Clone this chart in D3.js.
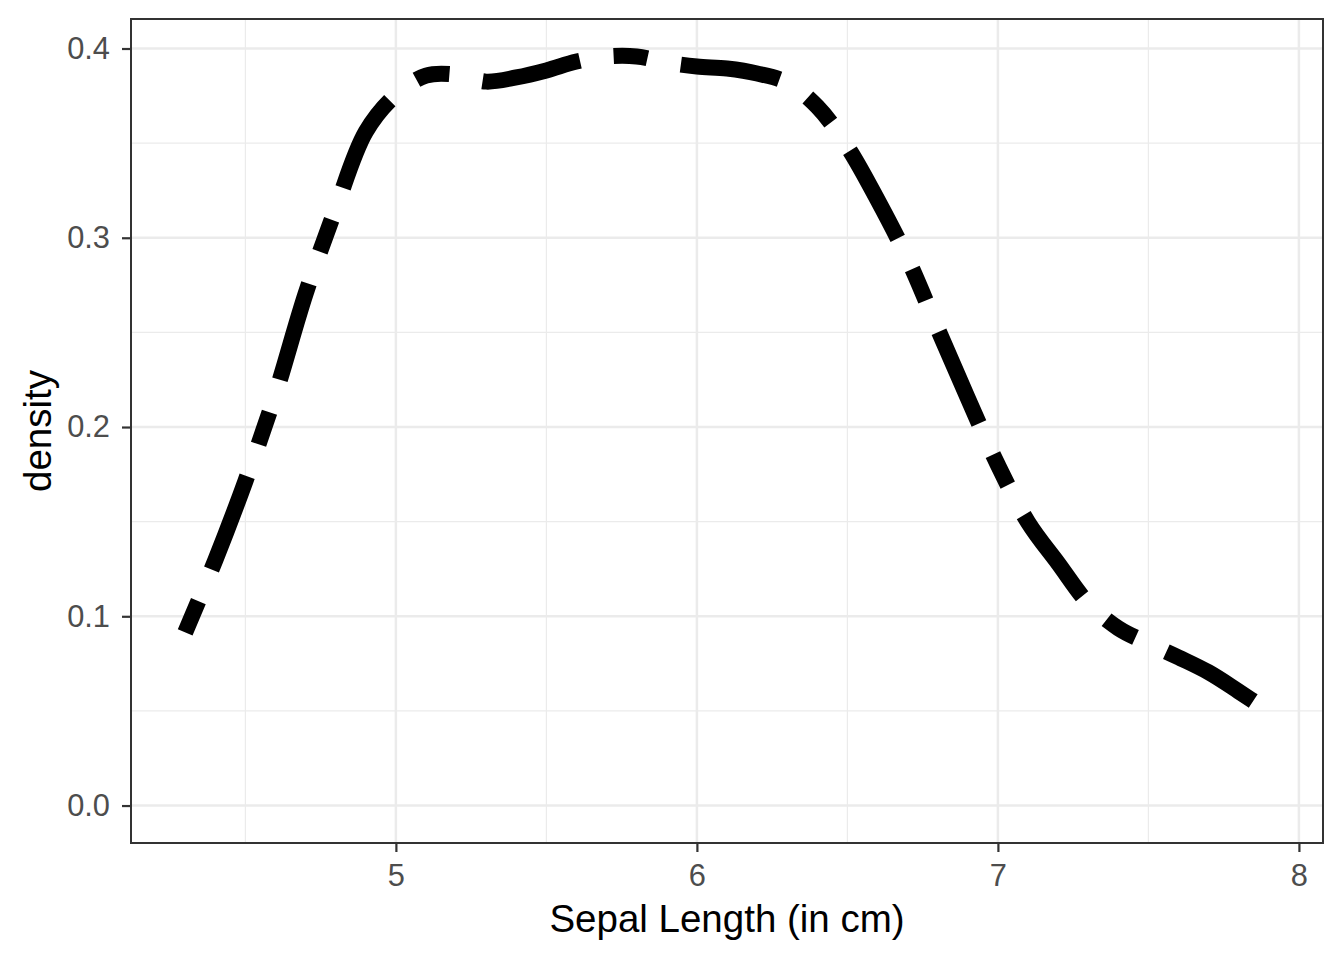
<!DOCTYPE html>
<html>
<head>
<meta charset="utf-8">
<script src="https://cdn.jsdelivr.net/npm/d3@7"></script>
<style>
  body { margin: 0; background: #fff; }
  svg { display: block; font-family: "Liberation Sans", Arial, sans-serif; }
</style>
</head>
<body>
<svg id="chart" width="1344" height="960"></svg>
<script>
// density of Sepal Length
const sepalLength = [4.3, 4.4, 4.5, 4.6, 4.7, 4.8, 4.9, 5.0, 5.1, 5.2, 5.3, 5.4, 5.5, 5.6, 5.7, 5.8, 5.9, 6.0,
  6.1, 6.2, 6.3, 6.4, 6.5, 6.6, 6.7, 6.8, 6.9, 7.0, 7.1, 7.2, 7.3, 7.4, 7.5, 7.6, 7.7, 7.8, 7.9];
const density = [0.0915, 0.1296, 0.1714, 0.2175, 0.2704, 0.3153, 0.3560, 0.3755, 0.3857, 0.3862, 0.3825, 0.3847,
  0.3884, 0.3931, 0.3958, 0.3958, 0.3926, 0.3905, 0.3894, 0.3868, 0.382, 0.3693, 0.3481, 0.3201, 0.2889,
  0.2519, 0.2153, 0.1799, 0.1497, 0.128, 0.1069, 0.0937, 0.0857, 0.0783, 0.0704, 0.0603, 0.0497];
const xTicks = [5, 6, 7, 8];
const xMinor = [4.5, 5.5, 6.5, 7.5];
const yTicks = [0, 0.1, 0.2, 0.3, 0.4];
const yMinor = [0.05, 0.15, 0.25, 0.35];

const svg = d3.select("#chart");
const panel = { left: 131, right: 1323, top: 19, bottom: 843 };

// ggplot style 5% expansion
const xExt = d3.extent(sepalLength);
const xPad = (xExt[1] - xExt[0]) * 0.05;
const x = d3.scaleLinear().domain([xExt[0] - xPad, xExt[1] + xPad]).range([panel.left, panel.right]);
const yMax = d3.max(density);
const y = d3.scaleLinear().domain([-yMax * 0.05, yMax * 1.05]).range([panel.bottom, panel.top]);

const grid = svg.append("g");
grid.selectAll(".xminor").data(xMinor).join("line")
  .attr("x1", d => x(d)).attr("x2", d => x(d))
  .attr("y1", panel.top).attr("y2", panel.bottom)
  .attr("stroke", "#EBEBEB").attr("stroke-width", 1.2);
grid.selectAll(".yminor").data(yMinor).join("line")
  .attr("y1", d => y(d)).attr("y2", d => y(d))
  .attr("x1", panel.left).attr("x2", panel.right)
  .attr("stroke", "#EBEBEB").attr("stroke-width", 1.2);
grid.selectAll(".xmajor").data(xTicks).join("line")
  .attr("x1", d => x(d)).attr("x2", d => x(d))
  .attr("y1", panel.top).attr("y2", panel.bottom)
  .attr("stroke", "#EBEBEB").attr("stroke-width", 2.5);
grid.selectAll(".ymajor").data(yTicks).join("line")
  .attr("y1", d => y(d)).attr("y2", d => y(d))
  .attr("x1", panel.left).attr("x2", panel.right)
  .attr("stroke", "#EBEBEB").attr("stroke-width", 2.5);

// density curve, twodash
const pts = sepalLength.map((v, i) => [v, density[i]]);
const line = d3.line().x(d => x(d[0])).y(d => y(d[1])).curve(d3.curveCatmullRom);
svg.append("path")
  .attr("d", line(pts))
  .attr("fill", "none")
  .attr("stroke", "#000")
  .attr("stroke-width", 16)
  .attr("stroke-dasharray", "34,34,100,34")
  .attr("stroke-linecap", "butt");

// panel border
svg.append("rect")
  .attr("x", panel.left).attr("y", panel.top)
  .attr("width", panel.right - panel.left).attr("height", panel.bottom - panel.top)
  .attr("fill", "none").attr("stroke", "#333333").attr("stroke-width", 2);

// axes
const xAxis = svg.append("g")
  .attr("transform", `translate(0,${panel.bottom})`)
  .call(d3.axisBottom(x).tickValues(xTicks).tickSize(9).tickPadding(12).tickFormat(d3.format("d")));
const yAxis = svg.append("g")
  .attr("transform", `translate(${panel.left},0)`)
  .call(d3.axisLeft(y).tickValues(yTicks).tickSize(9).tickPadding(12).tickFormat(d3.format(".1f")));
[xAxis, yAxis].forEach(g => {
  g.select(".domain").remove();
  g.selectAll(".tick line").attr("stroke", "#333333").attr("stroke-width", 2.2);
  g.selectAll(".tick text").attr("fill", "#4D4D4D").style("font-size", "30.8px")
    .style("font-family", "'Liberation Sans', Arial, sans-serif");
});

svg.append("text")
  .attr("x", (panel.left + panel.right) / 2).attr("y", 932)
  .attr("text-anchor", "middle").style("font-size", "38.5px").attr("fill", "#000")
  .text("Sepal Length (in cm)");
svg.append("text")
  .attr("transform", `translate(51,${(panel.top + panel.bottom) / 2}) rotate(-90)`)
  .attr("text-anchor", "middle").style("font-size", "38.5px").attr("fill", "#000")
  .text("density");
</script>
</body>
</html>
